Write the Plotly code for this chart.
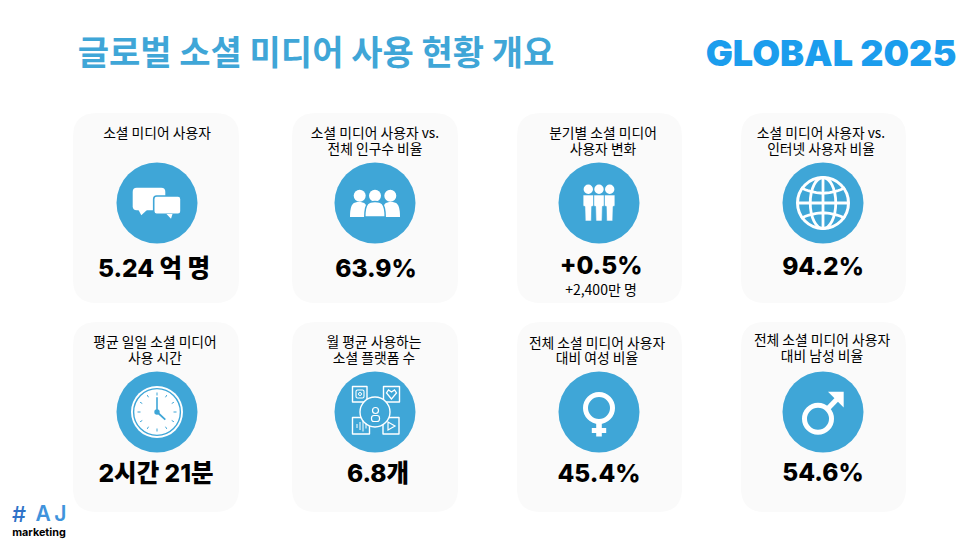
import math
import plotly.graph_objects as go

# content
heading = "글로벌 소셜 미디어 사용 현황 개요"
badge = "GLOBAL 2025"
title_line1 = ["소셜 미디어 사용자", "소셜 미디어 사용자 vs.", "분기별 소셜 미디어", "소셜 미디어 사용자 vs.",
               "평균 일일 소셜 미디어", "월 평균 사용하는", "전체 소셜 미디어 사용자", "전체 소셜 미디어 사용자"]
title_line2 = ["", "전체 인구수 비율", "사용자 변화", "인터넷 사용자 비율",
               "사용 시간", "소셜 플랫폼 수", "대비 여성 비율", "대비 남성 비율"]
stat_values = ["5.24 억 명", "63.9%", "+0.5%", "94.2%", "2시간 21분", "6.8개", "45.4%", "54.6%"]
stat_note = "+2,400만 명"

# layout, in page pixels
W, H = 980, 551
BLUE = "#3fa6d7"
card_x0 = [73, 292, 517, 741, 73, 292, 517, 741]
card_x1 = [239, 458, 682, 906, 239, 458, 682, 906]
card_y0 = [113, 113, 113, 113, 322, 322, 322, 322]
card_y1 = [303, 303, 303, 303, 512, 512, 512, 512]
circle_x = [157, 375, 599, 823, 157, 375, 599, 823]
circle_y = [203, 203, 203, 203, 412, 412, 412, 412]
title_x = [157, 375, 603, 821, 155, 374, 597, 822]
line1_y = [135, 135, 135, 135, 344, 344, 345, 342]
line2_y = [150, 151, 151, 151, 360, 360, 360, 358]
value_x = [154, 376, 601, 823, 156, 378, 599, 823]
value_y = [271, 271, 268, 269, 476, 476, 476, 475]

fig = go.Figure()


def ring(cx, cy, r, color="white", width=0, fill=None):
    fig.add_shape(type="circle", x0=cx - r, x1=cx + r, y0=cy - r, y1=cy + r,
                  fillcolor=fill, line=dict(color=color, width=width), layer="above")


def poly(points, fill="white", color=None, width=0, close=True):
    path = "M" + " L".join(f"{x:.2f},{y:.2f}" for x, y in points) + (" Z" if close else "")
    fig.add_shape(type="path", path=path, fillcolor=fill if close else None,
                  line=dict(color=color or fill or "white", width=width), layer="above")


def rrect(x0, y0, x1, y1, r, fill="white", color=None, width=0, layer="above"):
    path = (f"M{x0 + r},{y0} L{x1 - r},{y0} Q{x1},{y0} {x1},{y0 + r} L{x1},{y1 - r} Q{x1},{y1} {x1 - r},{y1} "
            f"L{x0 + r},{y1} Q{x0},{y1} {x0},{y1 - r} L{x0},{y0 + r} Q{x0},{y0} {x0 + r},{y0} Z")
    fig.add_shape(type="path", path=path, fillcolor=fill,
                  line=dict(color=color or fill, width=width), layer=layer)


def icon_chat(cx, cy):
    rrect(cx - 24.3, cy - 15.3, cx + 8.3, cy + 7.3, 4)
    poly([(cx - 19, cy + 6), (cx - 15.7, cy + 12.3), (cx - 9, cy + 6)])
    rrect(cx - 3.3, cy - 7, cx + 24, cy + 11.3, 3, color=BLUE, width=1.6)
    poly([(cx + 9.5, cy + 11), (cx + 14, cy + 15.7), (cx + 15.5, cy + 11)])


def icon_people(cx, cy):
    for dx in [-15.3, 15.3, 0]:
        ring(cx + dx, cy - 7.3, 6, fill="white")
    for dx, half in [(-16, 9), (16, 9), (0, 10.2)]:
        top = cy - 1 if dx else cy - 1.5
        path = (f"M{cx + dx - half},{cy + 14} C{cx + dx - half},{top + 1} {cx + dx - half + 4},{top} {cx + dx},{top} "
                f"C{cx + dx + half - 4},{top} {cx + dx + half},{top + 1} {cx + dx + half},{cy + 14} Z")
        fig.add_shape(type="path", path=path, fillcolor="white",
                      line=dict(color=BLUE if dx == 0 else "white", width=1.5 if dx == 0 else 0), layer="above")


def icon_team(cx, cy):
    for dx in [-10.7, 0, 10.7]:
        ring(cx + dx, cy - 13.7, 4.7, fill="white")
        poly([(cx + dx - 5.2, cy - 8), (cx + dx + 5.2, cy - 8), (cx + dx + 5.2, cy + 3), (cx + dx + 3.4, cy + 3.5),
              (cx + dx + 3, cy + 18), (cx + dx - 3, cy + 18), (cx + dx - 3.4, cy + 3.5), (cx + dx - 5.2, cy + 3)],
             color=BLUE, width=0.6)


def icon_globe(cx, cy):
    r = 25.5
    ring(cx, cy, r, width=3)
    fig.add_shape(type="circle", x0=cx - r * 0.5, x1=cx + r * 0.5, y0=cy - r, y1=cy + r,
                  line=dict(color="white", width=2.8), layer="above")
    poly([(cx, cy - r), (cx, cy + r)], fill=None, color="white", width=2.8, close=False)
    poly([(cx - r, cy), (cx + r, cy)], fill=None, color="white", width=2.8, close=False)
    for sign in [-1, 1]:
        pts = []
        for i in range(21):
            t = -1 + i / 10
            x = t * r * 0.86
            pts.append((cx + x, cy + sign * (r * 0.70 - r * 0.24 * (1 - t * t)) * 0.85))
        poly(pts, fill=None, color="white", width=2.8, close=False)


def icon_clock(cx, cy):
    ring(cx, cy, 26, fill="white")
    ring(cx, cy, 23.4, color=BLUE, width=1.4, fill="white")
    for i in range(12):
        a = math.radians(30 * i)
        r0, r1 = (19.5, 17) if i % 3 else (19.5, 16.5)
        poly([(cx + r0 * math.sin(a), cy - r0 * math.cos(a)), (cx + r1 * math.sin(a), cy - r1 * math.cos(a))],
             fill=None, color=BLUE, width=1, close=False)
    ring(cx, cy, 2.7, fill=BLUE)
    poly([(cx, cy), (cx, cy - 14.7)], fill=None, color=BLUE, width=1.6, close=False)
    poly([(cx, cy), (cx + 8.3, cy + 7.7)], fill=None, color=BLUE, width=1.8, close=False)


def icon_platforms(cx, cy):
    boxes = [(-22.5, -25.5, -8, -10), (8.5, -25.5, 24.5, -10), (-22.5, 5.5, -5.5, 22), (8, 5.5, 24, 22)]
    for x0, y0, x1, y1 in boxes:
        rrect(cx + x0, cy + y0, cx + x1, cy + y1, 0.1, fill=BLUE, color="white", width=1.4)
    ring(cx, cy, 15, color="white", width=1.4, fill=BLUE)
    ring(cx + 0.5, cy - 1.5, 3, color="white", width=1.2)
    rrect(cx - 3.5, cy + 3.5, cx + 4.5, cy + 9.5, 2.5, fill=BLUE, color="white", width=1.2)
    # small glyphs inside the boxes
    rrect(cx - 19, cy - 22, cx - 11, cy - 14, 1.5, fill=BLUE, color="white", width=1.1)
    ring(cx - 15, cy - 18, 1.5, color="white", width=1)
    poly([(cx + 16.5, cy - 13), (cx + 11.5, cy - 19), (cx + 13.5, cy - 22), (cx + 16.5, cy - 20),
          (cx + 19.5, cy - 22), (cx + 21.5, cy - 19)], fill=BLUE, color="white", width=1.3)
    for dx, half in [(-18, 2), (-15, 4), (-12, 5.5), (-9, 2.5)]:
        poly([(cx + dx, cy + 14 - half), (cx + dx, cy + 14 + half)], fill=None, color="white", width=1, close=False)
    poly([(cx + 13, cy + 10), (cx + 20, cy + 14), (cx + 13, cy + 18)], fill=BLUE, color="white", width=1.2)


def icon_female(cx, cy):
    ring(cx, cy - 4, 13.5, width=5)
    rrect(cx - 2.8, cy + 11, cx + 2.8, cy + 24.5, 0.1)
    rrect(cx - 7.2, cy + 16, cx + 7.2, cy + 21, 0.1)


def icon_male(cx, cy):
    ring(cx - 5, cy + 6.7, 13.5, width=5)
    poly([(cx + 3.5, cy - 2), (cx + 18, cy - 17)], fill=None, color="white", width=5, close=False)
    poly([(cx + 5, cy - 20.3), (cx + 20.7, cy - 20.3), (cx + 20.7, cy - 4.5)])


for x0, x1, y0, y1 in zip(card_x0, card_x1, card_y0, card_y1):
    rrect(x0, y0, x1, y1, 24, fill="#fafafa", layer="below")

# blue discs behind the icons
fig.add_trace(go.Scatter(x=circle_x, y=circle_y, mode="markers", hoverinfo="skip",
                         marker=dict(size=81, color=BLUE, line=dict(width=0))))

icons = [icon_chat, icon_people, icon_team, icon_globe, icon_clock, icon_platforms, icon_female, icon_male]
for draw, cx, cy in zip(icons, circle_x, circle_y):
    draw(cx, cy)

KR = "Noto Sans CJK KR"


def text(xs, ys, labels, size, color="black", weight=400, family=KR):
    fig.add_trace(go.Scatter(x=xs, y=ys, text=labels, mode="text", textposition="middle center",
                             hoverinfo="skip", cliponaxis=False,
                             textfont=dict(family=family, size=size, color=color, weight=weight)))


text([316], [56], [heading], 34, color=BLUE, weight=700)
text([831], [57], [badge], 36, color="#1b9ded", weight=900, family="Inter")
text(title_x, line1_y, title_line1, 13.8)
text(title_x, line2_y, title_line2, 13.8)
text(value_x, value_y, stat_values, 24.5, weight=800, family="Inter, " + KR)
text([601], [291], [stat_note], 14)
text([19], [516], ["#"], 22, color="#2f72c8", weight=500, family="Inter")
text([51], [516], ["A\u2009J"], 21, color="#3f93dc", weight=600, family="Inter")
text([39], [533], ["marketing"], 10.8, weight=700, family="Inter")

fig.update_layout(
    width=W, height=H, margin=dict(l=0, r=0, t=0, b=0),
    paper_bgcolor="white", plot_bgcolor="white", showlegend=False,
    xaxis=dict(range=[0, W], visible=False, fixedrange=True),
    yaxis=dict(range=[H, 0], visible=False, fixedrange=True),
)

fig.write_html("out.html", config={"displayModeBar": False},
               post_script="document.body.style.margin='0';document.body.style.overflow='hidden';")
